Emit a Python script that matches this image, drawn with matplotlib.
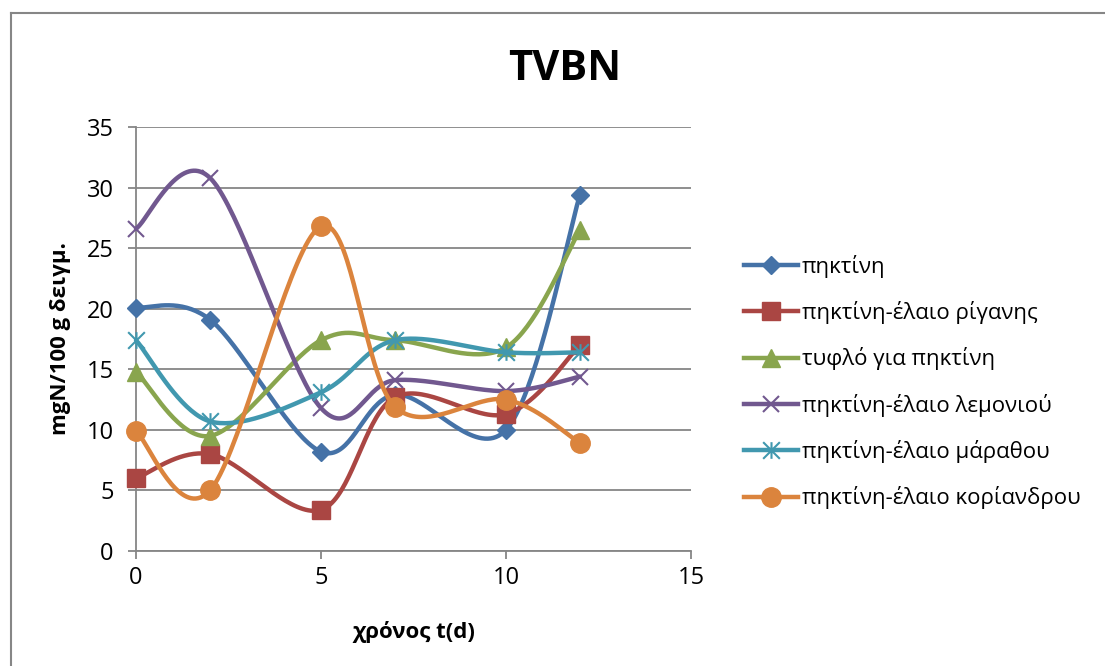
import numpy as np
import matplotlib
matplotlib.use("Agg")
import matplotlib.pyplot as plt
from matplotlib.path import Path
from matplotlib.lines import Line2D

plt.rcParams['font.family'] = ['Open Sans', 'DejaVu Sans']

# sampling days
days = [0, 2, 5, 7, 10, 12]

pectin = [20.1, 19.1, 8.2, 12.9, 10.0, 29.4]
pectin_oregano = [6.0, 8.0, 3.4, 12.7, 11.3, 17.0]
blank_pectin = [14.8, 9.5, 17.4, 17.4, 16.8, 26.5]
pectin_lemon = [26.6, 30.8, 11.8, 14.1, 13.2, 14.4]
pectin_fennel = [17.4, 10.7, 13.1, 17.4, 16.4, 16.4]
pectin_coriander = [9.9, 5.0, 26.8, 11.9, 12.5, 8.9]

labels = ['πηκτίνη', 'πηκτίνη-έλαιο ρίγανης', 'τυφλό για πηκτίνη',
          'πηκτίνη-έλαιο λεμονιού', 'πηκτίνη-έλαιο μάραθου',
          'πηκτίνη-έλαιο κορίανδρου']
series = [pectin, pectin_oregano, blank_pectin, pectin_lemon,
          pectin_fennel, pectin_coriander]
colors = ['#4572A7', '#AA4643', '#89A54E', '#71588F', '#4198AF', '#DB843D']

# asterisk marker: an x with a vertical bar through it
star = Path([(-0.5, -0.5), (0.5, 0.5), (-0.5, 0.5), (0.5, -0.5), (0, -0.5), (0, 0.5)],
            [Path.MOVETO, Path.LINETO, Path.MOVETO, Path.LINETO, Path.MOVETO, Path.LINETO])

markers = ['D', 's', '^', 'x', star, 'o']
msizes = [9, 13, 13, 12, 12, 14]
LW = 3.2


def smooth(x, y, n=40):
    # Catmull-Rom style bezier through every point
    p = np.column_stack([x, y]).astype(float)
    pts = np.vstack([p[0], p, p[-1]])
    t = np.linspace(0, 1, n)[:, None]
    out = []
    for i in range(1, len(pts) - 2):
        p0, p1, p2, p3 = pts[i - 1], pts[i], pts[i + 1], pts[i + 2]
        c1 = p1 + (p2 - p0) / 6
        c2 = p2 - (p3 - p1) / 6
        seg = ((1 - t) ** 3) * p1 + 3 * ((1 - t) ** 2) * t * c1 + 3 * (1 - t) * t ** 2 * c2 + t ** 3 * p2
        out.append(seg)
    out = np.vstack(out)
    return out[:, 0], out[:, 1]


fig = plt.figure(figsize=(11.05, 6.66), dpi=100)
ax = fig.add_axes([136 / 1105, 1 - 551 / 666, 555 / 1105, 424 / 666])

for k, (ys, c, m, ms, lab) in enumerate(zip(series, colors, markers, msizes, labels)):
    mew = 1.5 if (m is star or m == 'x') else 1
    sx, sy = smooth(days, ys)
    ax.plot(sx, sy, color=c, lw=LW, solid_capstyle='round', zorder=3 + k, clip_on=False)
    ax.plot(days, ys, ls='none', marker=m, ms=ms, color=c, mec=c, mew=mew,
            zorder=3 + k, clip_on=False)
    ax.plot([], [], color=c, lw=LW, marker=m, ms=ms, mec=c, mew=mew, label=lab)

ax.set_xlim(0, 15)
ax.set_ylim(0, 35)
ax.set_xticks([0, 5, 10, 15])
ax.set_yticks(range(0, 36, 5))
ax.yaxis.grid(True, color='#868686', lw=1.3)
ax.set_axisbelow(True)
for s in ['top', 'right']:
    ax.spines[s].set_visible(False)
for s in ['left', 'bottom']:
    ax.spines[s].set_color('#868686')
    ax.spines[s].set_linewidth(1.3)
ax.tick_params(length=6, width=1.3, color='#868686', labelsize=17)
ax.tick_params(axis='y', pad=10)
ax.tick_params(axis='x', pad=5)
ax.set_xlabel('χρόνος t(d)', fontsize=16, fontweight='bold', labelpad=22)
ax.set_ylabel('mgN/100 g δειγμ.', fontsize=16, fontweight='bold', labelpad=11)
fig.text(565 / 1105, 1 - 70 / 666, 'TVBN', fontsize=30, fontweight='bold',
         ha='center', va='center')

fig.legend(loc='center left', bbox_to_anchor=(724 / 1105, 1 - 382 / 666),
           frameon=False, fontsize=16, handlelength=2.45, handletextpad=0.15,
           labelspacing=1.05)

# chart border (only top and left edges fall inside the image)
fig.add_artist(Line2D([11 / 1105, 11 / 1105], [0, 1 - 13 / 666], color='#868686', lw=1.5))
fig.add_artist(Line2D([11 / 1105, 1], [1 - 13 / 666, 1 - 13 / 666], color='#868686', lw=1.5))

fig.savefig('out.png', dpi=100)
